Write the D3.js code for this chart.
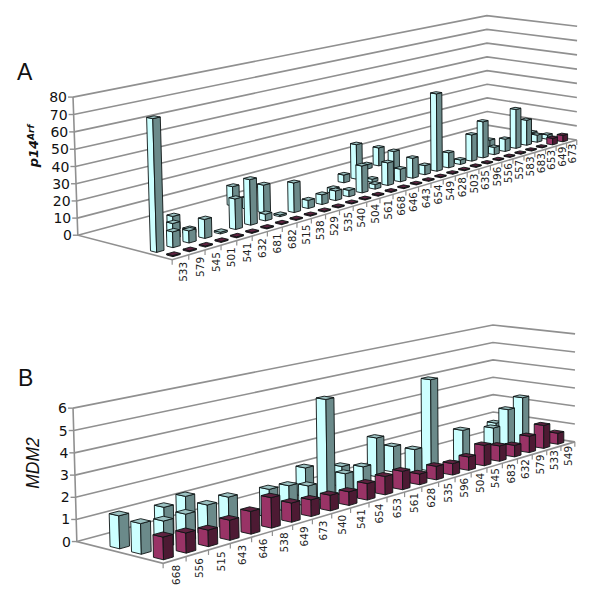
<!DOCTYPE html>
<html><head><meta charset="utf-8">
<script src="https://cdnjs.cloudflare.com/ajax/libs/d3/7.8.5/d3.min.js"></script>
<style>html,body{margin:0;padding:0;background:#fff}svg{display:block}</style>
</head><body>
<svg id="c" width="600" height="600"></svg>
<script>
// ---------- Panel A data ----------
const aCategories = ["533","579","545","501","541","632","681","682","515","538","529","535","540","504","561","668","646","643","654","549","628","503","635","596","556","557","583","683","653","649","673"];
const aTicks = [0,10,20,30,40,50,60,70,80];
const aRowNames = ["r1","r2","r3","r4","r5","r6"];
const aMaroon = [.6,.6,.6,.6,.6,.6,.6,.6,.6,.6,.6,.6,.6,.6,.6,.6,.6,.6,.6,.6,.6,.6,.6,.6,.6,.6,.6,.6,.6,4.5,4.5];
const aCyan1  = [75,9,7,11,1,18,27,4,1,18,5,6,6,4,17,3,14.5,8.2,13,6,51,10,3,17.7,24.5,5,8.5,27,17.5,5,3];
const aCyan2  = [null,null,9,3,null,null,null,null,17,null,null,null,null,3,null,null,2,null,null,null,null,null,null,null,null,null,6,null,null,null,3];
const aCyan3  = [null,null,null,8.4,null,null,null,null,7,null,null,null,null,null,null,5,22.5,null,null,11.5,null,null,null,null,null,null,null,null,null,null,null];
const aCyan4  = [null,null,null,null,null,null,null,null,12,null,null,null,null,null,null,null,null,null,3,12,null,null,null,null,null,null,null,null,null,null,null];
// ---------- Panel B data ----------
const bCategories = ["668","556","515","643","646","538","649","673","540","541","654","653","561","628","535","596","504","545","683","632","579","533","549"];
const bTicks = [0,1,2,3,4,5,6];
const bRowNames = ["r1","r2","r3","r4"];
const bMaroon = [.99,.89,.74,.91,1.04,1.41,.9,.79,.75,.66,.81,.91,.92,.54,.69,.59,.7,1.08,.82,.62,.89,1.26,.61];
const bCyan1  = [1.35,1.19,1.23,1.38,1.48,null,1.33,1.25,.99,4.95,1.09,1.19,null,null,1.36,4.76,null,1.69,null,1.38,2.17,2.62,null];
const bCyan2  = [1.47,null,1.32,1.56,null,null,null,null,null,1.42,null,1.01,null,2.0,1.33,null,null,null,null,null,null,null,null];
const bCyan3  = [null,null,null,null,null,null,null,null,null,null,null,null,null,null,null,null,null,null,null,null,null,null,.65];
// ---------- Calibration of the two perspective boxes: [x,value,z] -> screen ----------
const aBox = [[0,0,0,172,260],[1,0,0,577,139],[0,0,1,78,235],[1,0,1,487,126],[0,1,1,73,97],[1,1,1,487,15],[1,1,0,577,27]];
const bBox = [[0,0,0,163,563],[1,0,0,575,442],[0,0,1,77,542],[1,0,1,493,429],[0,1,1,73,408],[1,1,1,493,325],[1,1,0,575,334]];

const palette = {
  cyan:{left:"#ccffff",right:"#6b8a8a",top:"#9cc2c2"},
  maroon:{left:"#993366",right:"#4d1a33",top:"#5f2240"}
};
const GRID="#909090";
const root=d3.select("#c").append("g");

function fitProjection(box){
  const A=[],B=[];
  box.forEach(([x,y,z,u,v])=>{
    A.push([x,y,z,1,0,0,0,0,-u*x,-u*y,-u*z]);B.push(u);
    A.push([0,0,0,0,x,y,z,1,-v*x,-v*y,-v*z]);B.push(v);
  });
  const n=11,M=d3.range(n).map(i=>d3.range(n+1).map(j=>{
    let s=0;for(let k=0;k<A.length;k++)s+=A[k][i]*(j<n?A[k][j]:B[k]);return s;}));
  for(let i=0;i<n;i++){
    let p=i;for(let r=i+1;r<n;r++)if(Math.abs(M[r][i])>Math.abs(M[p][i]))p=r;
    [M[i],M[p]]=[M[p],M[i]];
    for(let r=0;r<n;r++)if(r!==i){const f=M[r][i]/M[i][i];for(let c=i;c<=n;c++)M[r][c]-=f*M[i][c];}
  }
  const h=M.map((r,i)=>r[n]/r[i]);
  return (x,y,z)=>{const w=h[8]*x+h[9]*y+h[10]*z+1;
    return [(h[0]*x+h[1]*y+h[2]*z+h[3])/w,(h[4]*x+h[5]*y+h[6]*z+h[7])/w];};
}

function drawPanel(cfg){
  const g=root.append("g");
  const proj=fitProjection(cfg.box);
  const xS=d3.scaleBand().domain(cfg.cats).range(cfg.xRange).paddingInner(cfg.xPad).paddingOuter(cfg.xPad/2);
  const zS=d3.scaleBand().domain(cfg.rows).range([0,1]).paddingInner(cfg.zPad).paddingOuter(cfg.zPad/2);
  const yS=d3.scaleLinear().domain(d3.extent(cfg.ticks)).range([0,1]);
  const lblDy=d3.scaleLinear().domain([0,1]).range(cfg.lblDy);
  const line=d3.line();
  g.selectAll("path.grid").data(cfg.ticks).join("path").attr("class","grid")
    .attr("d",t=>{const y=yS(t);return line([proj(0,y,1),proj(1,y,1),proj(1,y,0)]);})
    .attr("fill","none").attr("stroke",GRID).attr("stroke-width",1.6);
  g.append("path").attr("d",line([proj(0,1,1),proj(0,0,1),proj(0,0,0),proj(1,0,0)]))
    .attr("fill","none").attr("stroke",GRID).attr("stroke-width",1.6);
  g.selectAll("path.yt").data(cfg.ticks).join("path").attr("class","yt")
    .attr("d",t=>{const p=proj(0,yS(t),1);return line([[p[0]-5,p[1]],p]);})
    .attr("stroke",GRID).attr("stroke-width",1.4);
  g.selectAll("text.yl").data(cfg.ticks).join("text").attr("class","yl")
    .attr("x",t=>proj(0,yS(t),1)[0]-6).attr("y",t=>proj(0,yS(t),1)[1]+5)
    .attr("text-anchor","end").attr("font-family","DejaVu Sans").attr("font-size",cfg.yFont).attr("fill","#111")
    .text(t=>t);
  const xB=d3.range(cfg.cats.length+1).map(i=>i/cfg.cats.length);
  g.selectAll("path.xt").data(xB).join("path").attr("class","xt")
    .attr("d",u=>{const p=proj(u,0,0);return line([p,[p[0],p[1]+5]]);})
    .attr("stroke",GRID).attr("stroke-width",1.2);
  g.selectAll("text.xl").data(cfg.cats).join("text").attr("class","xl")
    .attr("transform",c=>{const u=xS(c)+xS.bandwidth()/2,p=proj(u,0,0);return `translate(${p[0]+cfg.lblDx},${p[1]+lblDy(u)}) rotate(-90)`;})
    .attr("text-anchor","end").attr("dy","0.35em")
    .attr("font-family","DejaVu Sans").attr("font-size",cfg.xFont).attr("fill","#222").text(c=>c);
  const bars=[];
  cfg.series.forEach(s=>s.values.forEach((v,i)=>{
    if(v==null)return;
    const c=cfg.cats[i],x0=xS(c),x1=x0+xS.bandwidth(),z0=zS(s.row),z1=z0+zS.bandwidth(),y=yS(v);
    bars.push({color:s.color,x0,x1,z0,z1,y,key:proj(x0,0,z0)[1]});
  }));
  bars.sort((a,b)=>a.key-b.key);
  const gb=g.selectAll("g.bar").data(bars).join("g").attr("class","bar")
    .attr("stroke","#0d1414").attr("stroke-width",.9).attr("stroke-linejoin","round");
  const poly=(pts)=>pts.map(p=>p.join(",")).join(" ");
  gb.append("polygon").attr("fill",d=>palette[d.color].left)
    .attr("points",d=>poly([proj(d.x0,0,d.z0),proj(d.x0,0,d.z1),proj(d.x0,d.y,d.z1),proj(d.x0,d.y,d.z0)]));
  gb.append("polygon").attr("fill",d=>palette[d.color].right)
    .attr("points",d=>poly([proj(d.x0,0,d.z0),proj(d.x1,0,d.z0),proj(d.x1,d.y,d.z0),proj(d.x0,d.y,d.z0)]));
  gb.append("polygon").attr("fill",d=>palette[d.color].top)
    .attr("points",d=>poly([proj(d.x0,d.y,d.z0),proj(d.x1,d.y,d.z0),proj(d.x1,d.y,d.z1),proj(d.x0,d.y,d.z1)]));
}

drawPanel({box:aBox,cats:aCategories,rows:aRowNames,ticks:aTicks,xPad:.55,zPad:.62,xRange:[.0025,.995],yFont:14,xFont:10.5,lblDx:2,lblDy:[5,1.5],
  series:[{row:"r1",color:"maroon",values:aMaroon},{row:"r2",color:"cyan",values:aCyan1},{row:"r3",color:"cyan",values:aCyan2},{row:"r4",color:"cyan",values:aCyan3},{row:"r5",color:"cyan",values:aCyan4}]});
drawPanel({box:bBox,cats:bCategories,rows:bRowNames,ticks:bTicks,xPad:.57,zPad:.55,xRange:[0,.996],yFont:14,xFont:10.5,lblDx:2,lblDy:[5,1.5],
  series:[{row:"r1",color:"maroon",values:bMaroon},{row:"r2",color:"cyan",values:bCyan1},{row:"r3",color:"cyan",values:bCyan2},{row:"r4",color:"cyan",values:bCyan3}]});

const svg=d3.select("#c");
const letters=[{t:"A",x:17,y:80},{t:"B",x:18,y:386}];
svg.selectAll("text.ltr").data(letters).join("text").attr("class","ltr").attr("x",d=>d.x).attr("y",d=>d.y)
  .attr("font-family","Liberation Sans").attr("font-size",23).attr("fill","#111").text(d=>d.t);
const t1=svg.append("text").attr("transform","translate(38,146) rotate(-90)").attr("text-anchor","middle")
  .attr("font-family","DejaVu Sans").attr("font-weight","bold").attr("font-style","italic").attr("font-size",13).attr("fill","#111");
t1.append("tspan").text("p14");
t1.append("tspan").attr("font-size",9).attr("dy",-4).text("Arf");
svg.append("text").attr("transform","translate(39,463) rotate(-90)").attr("text-anchor","middle")
  .attr("font-family","Liberation Sans").attr("font-style","italic").attr("font-size",17.5).attr("fill","#111").text("MDM2");
</script>
</body></html>
